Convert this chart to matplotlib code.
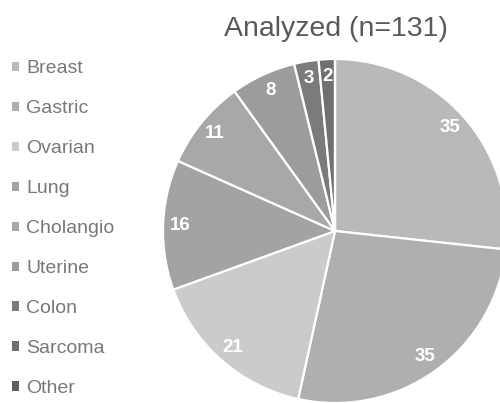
import matplotlib.pyplot as plt
from matplotlib.patches import Patch

plt.rcParams['font.family'] = ['Liberation Sans', 'DejaVu Sans']

labels = ['Breast', 'Gastric', 'Ovarian', 'Lung', 'Cholangio', 'Uterine', 'Colon', 'Sarcoma', 'Other']
counts = [35, 35, 21, 16, 11, 8, 3, 2, 0]
colors = ['#b9b9b9', '#afafaf', '#cbcbcb', '#a3a3a3', '#a8a8a8', '#9c9c9c', '#7b7b7b', '#707070', '#5e5e5e']
title = 'Analyzed (n=131)'

total = sum(counts)

fig = plt.figure(figsize=(5.0, 4.03), dpi=100)
ax = fig.add_axes([0, 0, 1, 1])
ax.axis('off')

def show_count(p):
    n = int(round(p * total / 100))
    return str(n) if n > 0 else ''

wedges, texts, autotexts = ax.pie(
    counts, colors=colors, startangle=90, counterclock=False,
    center=(335, 172), radius=172, autopct=show_count, pctdistance=0.9,
    wedgeprops=dict(edgecolor='white', linewidth=1.6),
    textprops=dict(color='white', fontsize=13.5, fontweight='bold'))
ax.set_xlim(0, 500)
ax.set_ylim(0, 403)

ax.text(335.5, 374, title, ha='center', va='center', fontsize=20.5, color='#595959')

handles = [Patch(facecolor=c, edgecolor='none') for c in colors]
fig.legend(handles, labels, loc='upper left', bbox_to_anchor=(0.024, 0.85),
           frameon=False, fontsize=14, labelcolor='#787878',
           handlelength=0.36, handleheight=0.36, handletextpad=0.38,
           labelspacing=1.18, borderaxespad=0, borderpad=0)

fig.savefig('out.png', dpi=100)
